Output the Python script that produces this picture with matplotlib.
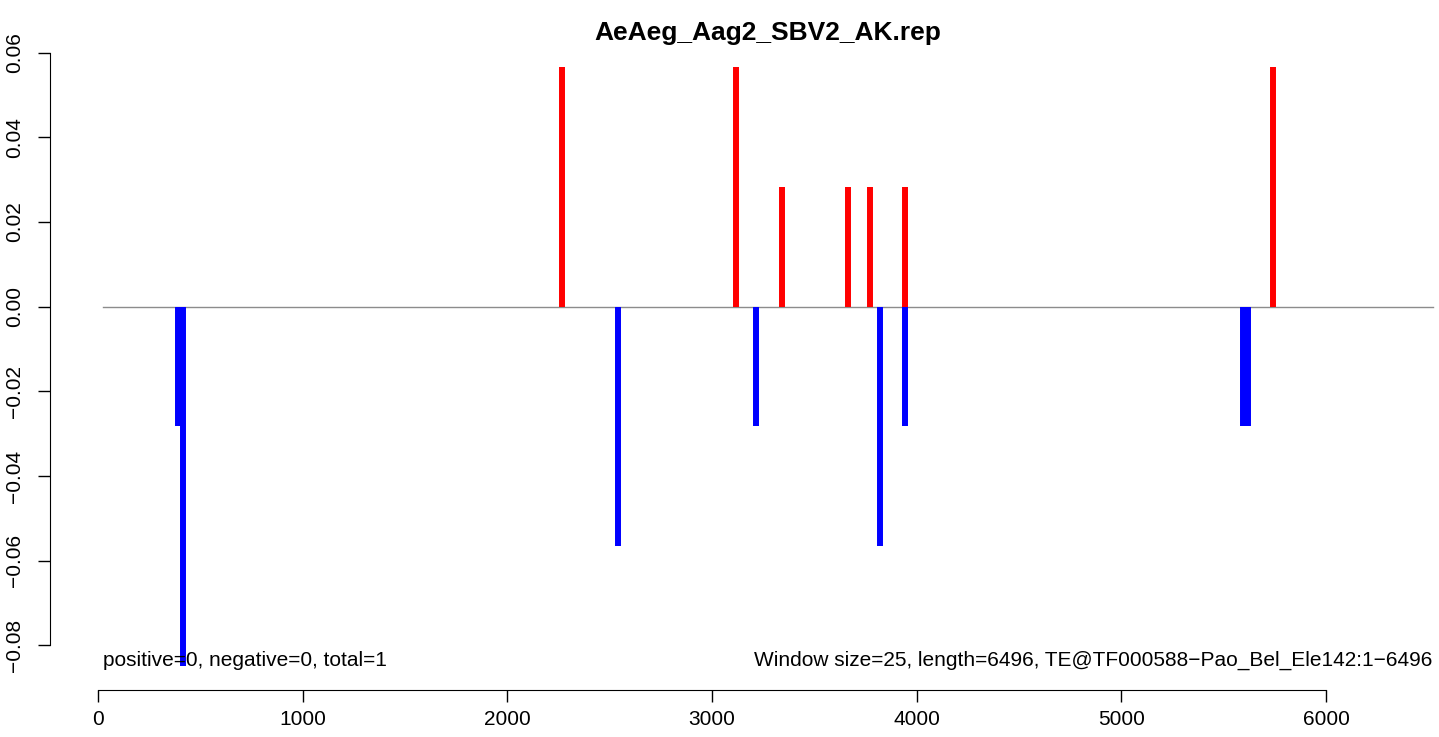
import matplotlib
matplotlib.use("Agg")
import matplotlib.pyplot as plt

title = "AeAeg_Aag2_SBV2_AK.rep"
window = 25
length = 6496

pos_x = [2266, 3118, 3343, 3666, 3769, 3940, 5741]
pos_y = [0.0566, 0.0566, 0.0283, 0.0283, 0.0283, 0.0283, 0.0566]
neg_x = [392, 416, 2540, 3216, 3818, 3940, 5595, 5619]
neg_y = [-0.0283, -0.0849, -0.0566, -0.0283, -0.0566, -0.0283, -0.0283, -0.0283]

x_ticks = [0, 1000, 2000, 3000, 4000, 5000, 6000]
y_ticks = [-0.08, -0.06, -0.04, -0.02, 0.00, 0.02, 0.04, 0.06]

left_note = "positive=0, negative=0, total=1"
right_note = "Window size=25, length=6496, TE@TF000588\u2212Pao_Bel_Ele142:1\u22126496"

plt.rcParams['font.family'] = ['Liberation Sans', 'DejaVu Sans']

fig = plt.figure(figsize=(14.39, 7.37), dpi=100)
# plot region runs past the right edge, as in the cropped original
ax = fig.add_axes([50 / 1439, 47 / 737, 1436 / 1439, 647 / 737])

# R-style 4% range extension
x0, x1 = window, length + window
ymin, ymax = min(neg_y), max(pos_y)
dx = 0.04 * (x1 - x0)
dy = 0.04 * (ymax - ymin)
ax.set_xlim(x0 - dx, x1 + dx)
ax.set_ylim(ymin - dy, ymax + dy)

ax.plot([x0, x1], [0, 0], color='#8c8c8c', lw=1, zorder=1)
ax.vlines(pos_x, 0, pos_y, colors='#ff0000', lw=4.3, capstyle='butt', zorder=2)
ax.vlines(neg_x, 0, neg_y, colors='#0000ff', lw=4.3, capstyle='butt', zorder=2)

ax.text(x0, ymin, left_note, ha='left', va='baseline', fontsize=15)
ax.text(x1, ymin, right_note, ha='right', va='baseline', fontsize=15)

for s in ['top', 'right']:
    ax.spines[s].set_visible(False)
ax.spines['bottom'].set_bounds(x_ticks[0], x_ticks[-1])
ax.spines['left'].set_bounds(y_ticks[0], y_ticks[-1])
ax.set_xticks(x_ticks)
ax.set_xticklabels([str(t) for t in x_ticks])
ax.set_yticks(y_ticks)
ax.set_yticklabels([f"{t:.2f}".replace("-", "\u2212") for t in y_ticks],
                   rotation=90, va='center')
ax.tick_params(axis='both', length=8.6, width=1, labelsize=15, direction='out')
ax.tick_params(axis='x', pad=6)
ax.tick_params(axis='y', pad=10)

fig.text(768 / 1439, 1 - 33 / 737, title, ha='center', va='center',
         fontsize=19, fontweight='bold')

fig.savefig("out.png", dpi=100)
